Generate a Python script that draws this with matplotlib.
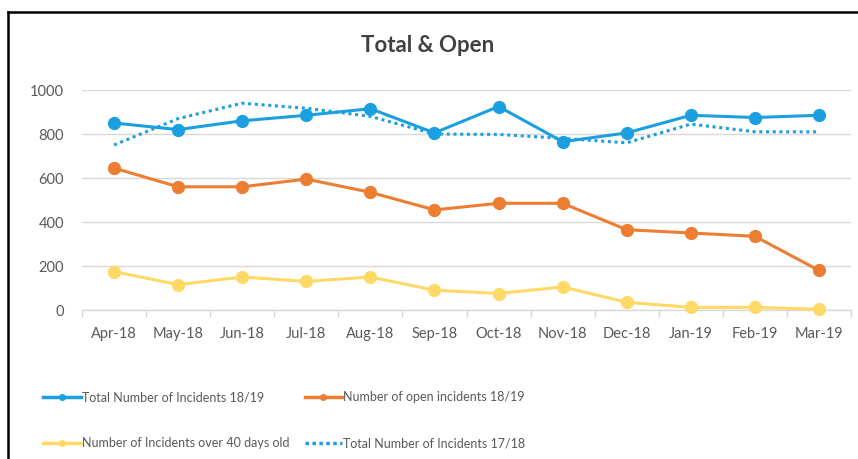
import matplotlib.pyplot as plt
from matplotlib.lines import Line2D

months = ['Apr-18', 'May-18', 'Jun-18', 'Jul-18', 'Aug-18', 'Sep-18',
          'Oct-18', 'Nov-18', 'Dec-18', 'Jan-19', 'Feb-19', 'Mar-19']
total_1819 = [850, 820, 860, 885, 915, 805, 925, 765, 805, 885, 875, 885]
open_1819 = [645, 560, 560, 595, 535, 455, 485, 485, 365, 350, 335, 180]
over_40_days = [175, 115, 150, 130, 150, 90, 75, 105, 35, 12, 12, 3]
total_1718 = [750, 870, 940, 917, 880, 800, 798, 780, 760, 845, 810, 810]

BLUE = '#1C9FE0'
ORANGE = '#ED7D31'
YELLOW = '#FFD966'
GRID = '#D9D9D9'
TEXT = '#595959'

plt.rcParams['font.family'] = ['Lato', 'DejaVu Sans']

fig = plt.figure(figsize=(8.58, 4.59), dpi=100)
ax = fig.add_axes([82 / 858, 1 - 310 / 459, (851 - 82) / 858, (310 - 90) / 459])

x = list(range(len(months)))
ms = 8.5
lw = 2.2
ax.plot(x, total_1718, color=BLUE, lw=2.2, ls=(0, (1, 1.2)), clip_on=False, zorder=3)
ax.plot(x, over_40_days, color=YELLOW, lw=lw, marker='o', ms=ms, clip_on=False, zorder=4)
ax.plot(x, open_1819, color=ORANGE, lw=lw, marker='o', ms=ms, clip_on=False, zorder=4)
ax.plot(x, total_1819, color=BLUE, lw=lw, marker='o', ms=ms, clip_on=False, zorder=5)

ax.set_xlim(-0.5, len(months) - 0.5)
ax.set_ylim(0, 1000)
ax.set_yticks(range(0, 1001, 200))
ax.yaxis.grid(True, color=GRID, lw=1)
ax.set_axisbelow(True)
for s in ['top', 'right', 'left']:
    ax.spines[s].set_visible(False)
ax.spines['bottom'].set_color(GRID)
ax.spines['bottom'].set_linewidth(1)

ax.set_xticks(x)
ax.set_xticklabels(months)
ax.set_xticks([i - 0.5 for i in range(len(months) + 1)], minor=True)
ax.tick_params(axis='x', which='major', length=0, pad=12, labelsize=10.5, labelcolor=TEXT)
ax.tick_params(axis='x', which='minor', length=5, color=GRID, width=1)
ax.tick_params(axis='y', length=0, pad=13, labelsize=10.5, labelcolor=TEXT)

fig.text(428 / 858, 1 - 45 / 459, 'Total & Open', ha='center', va='center',
         fontsize=16, fontweight='bold', color='#404040')

# legend with small markers
handles = [
    Line2D([], [], color=BLUE, lw=2.5, marker='o', ms=4),
    Line2D([], [], color=YELLOW, lw=2.5, marker='o', ms=4),
    Line2D([], [], color=ORANGE, lw=2.5, marker='o', ms=4),
    Line2D([], [], color=BLUE, lw=2.5, ls=(0, (1, 1))),
]
labels = ['Total Number of Incidents 18/19', 'Number of Incidents over 40 days old',
          'Number of open incidents 18/19', 'Total Number of Incidents 17/18']
leg = fig.legend(handles, labels, ncol=2, frameon=False, fontsize=9,
                 loc='upper left', bbox_to_anchor=(32 / 858, 1 - 380 / 459),
                 handlelength=3.0, handletextpad=0.1, columnspacing=1.2,
                 labelspacing=2.7, labelcolor=TEXT)

# outer frame (left and top)
fig.add_artist(Line2D([8 / 858, 8 / 858], [0, 1 - 12 / 459], color='black', lw=1.8,
                      transform=fig.transFigure))
fig.add_artist(Line2D([8 / 858, 1], [1 - 12 / 459, 1 - 12 / 459], color='black', lw=1.8,
                      transform=fig.transFigure))

fig.savefig('out.png', dpi=100)
